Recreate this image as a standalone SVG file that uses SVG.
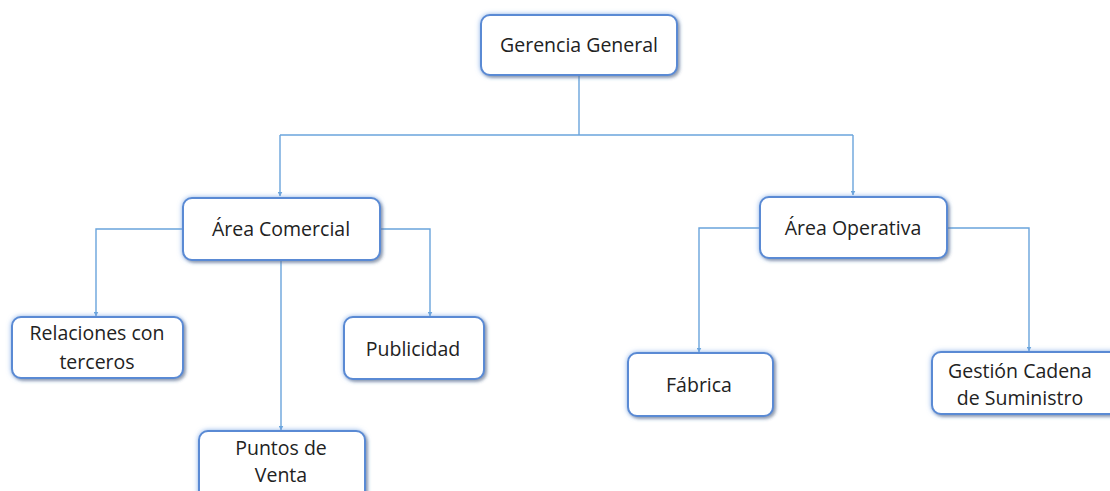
<svg xmlns="http://www.w3.org/2000/svg" width="1110" height="491" viewBox="0 0 1110 491">
<style>
.box{fill:#fff;stroke:#5a8ad4;stroke-width:2;filter:url(#glow)}
.t{font-family:"Open Sans","Liberation Sans",sans-serif;font-size:19.5px;fill:#222;text-anchor:middle}
.c{fill:none;stroke:#6aa4dc;stroke-width:1.4}
</style>
<defs>
<filter id="glow" x="-20%" y="-30%" width="140%" height="160%">
<feGaussianBlur in="SourceAlpha" stdDeviation="2.5" result="b"/>
<feFlood flood-color="#7aa7e6" flood-opacity="0.85"/>
<feComposite in2="b" operator="in" result="g"/>
<feOffset in="SourceAlpha" dx="2" dy="2" result="o"/>
<feGaussianBlur in="o" stdDeviation="1.5" result="ob"/>
<feFlood flood-color="#555" flood-opacity="0.5"/>
<feComposite in2="ob" operator="in" result="s"/>
<feMerge><feMergeNode in="g"/><feMergeNode in="s"/><feMergeNode in="SourceGraphic"/></feMerge>
</filter>
<marker id="ah" viewBox="0 0 10 10" refX="9" refY="5" markerWidth="5" markerHeight="5" orient="auto" markerUnits="userSpaceOnUse">
<path d="M0,0 L10,5 L0,10 z" fill="#6aa4dc"/>
</marker>
</defs>
<g id="connectors">
<path class="c" d="M579,76 V135"/>
<path class="c" d="M280,135 H853"/>
<path class="c" d="M280,135 V196" marker-end="url(#ah)"/>
<path class="c" d="M853,135 V195" marker-end="url(#ah)"/>
<path class="c" d="M183,229 H96 V316" marker-end="url(#ah)"/>
<path class="c" d="M380,229 H430 V316" marker-end="url(#ah)"/>
<path class="c" d="M281,260 V430" marker-end="url(#ah)"/>
<path class="c" d="M759,228 H699 V352" marker-end="url(#ah)"/>
<path class="c" d="M947,228 H1029 V351" marker-end="url(#ah)"/>
</g>
<g id="gerencia"><rect class="box" x="481" y="15" width="196" height="60" rx="9"/><text class="t" x="579" y="52">Gerencia General</text></g>
<g id="comercial"><rect class="box" x="183" y="198" width="197" height="62" rx="9"/><text class="t" x="281" y="236">Área Comercial</text></g>
<g id="operativa"><rect class="box" x="760" y="197" width="187" height="61" rx="9"/><text class="t" x="853" y="235">Área Operativa</text></g>
<g id="relaciones"><rect class="box" x="12" y="317" width="171" height="61" rx="9"/><text class="t" x="97" y="340">Relaciones con</text><text class="t" x="97" y="369">terceros</text></g>
<g id="publicidad"><rect class="box" x="344" y="317" width="140" height="62" rx="9"/><text class="t" x="413" y="356">Publicidad</text></g>
<g id="puntos"><rect class="box" x="199" y="431" width="166" height="70" rx="9"/><text class="t" x="281" y="455">Puntos de</text><text class="t" x="281" y="482">Venta</text></g>
<g id="fabrica"><rect class="box" x="628" y="353" width="145" height="63" rx="9"/><text class="t" x="699" y="392">Fábrica</text></g>
<g id="gestion"><rect class="box" x="932" y="352" width="190" height="62" rx="9"/><text class="t" x="1020" y="378">Gestión Cadena</text><text class="t" x="1020" y="405">de Suministro</text></g>
</svg>
